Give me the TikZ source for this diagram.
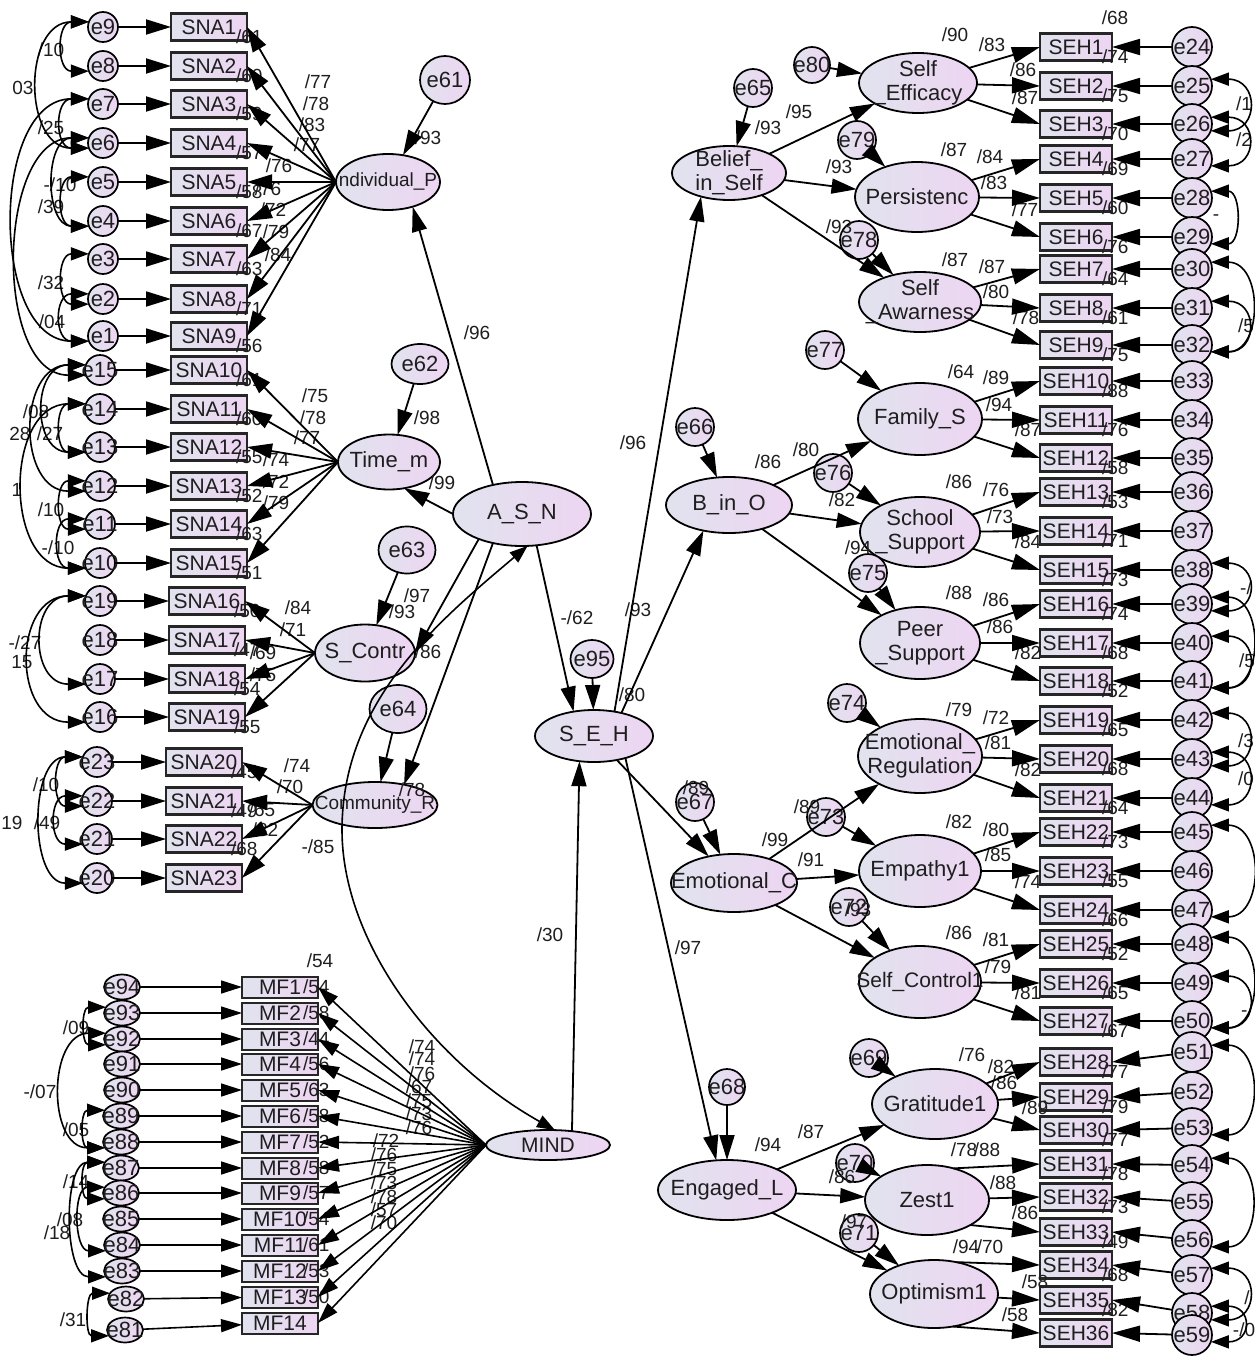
\documentclass[tikz,border=0pt]{standalone}
\usepackage{fontspec}
\setmainfont{Liberation Sans}
\usetikzlibrary{shapes.geometric,arrows.meta}
\definecolor{lc}{HTML}{E1E3EE}
\definecolor{rc}{HTML}{EDD5F2}
\definecolor{ink}{HTML}{1E1E1E}
\newcommand\dv{/}
\begin{document}
\begin{tikzpicture}[x=1pt,y=-1pt,
  every node/.style={inner sep=0pt,outer sep=0pt},
  shd/.style={left color=lc,right color=rc},
  lat/.style={ellipse,draw=black,line width=1.8pt,shd},
  obs/.style={rectangle,draw=black!85,line width=2.4pt,shd,font=\fontsize{21}{23}\selectfont,text=ink},
  err/.style={circle,draw=black,line width=1.7pt,shd},
  errE/.style={ellipse,draw=black,line width=1.7pt,shd},
  etx/.style={font=\fontsize{22}{24}\selectfont,text=ink},
  ltx/.style={font=\fontsize{22}{24}\selectfont,align=center,text=ink},
  lb/.style={font=\fontsize{19}{21}\selectfont,text=ink},
  ar/.style={line width=1.8pt,-{Triangle[length=25pt,width=15pt]}},
  arR/.style={line width=1.8pt,-{Triangle[length=28pt,width=16pt]}},
  arm/.style={line width=1.6pt,-{Triangle[length=21pt,width=13pt]}},
  cov/.style={line width=1.6pt,{Triangle[length=18pt,width=13pt]}-{Triangle[length=18pt,width=13pt]}},
]
\fill[white] (0,0) rectangle (1254,1357);
\useasboundingbox (0,0) rectangle (1254,1357);

% ---------------- SNA block ----------------
\foreach \i/\y/\e/\bx/\ex in {1/27/9/209/103,2/66/8/209/103,3/104/7/209/103,4/143/6/209/103,5/182/5/209/103,6/221/4/209/103,7/259/3/209/103,8/299/2/209/103,9/336/1/209/103,10/370/15/209/100,11/409/14/209/100,12/447/13/209/100,13/486/12/209/100,14/524/11/209/100,15/563/10/209/100,16/601/19/207/100,17/640/18/207/100,18/679/17/207/100,19/717/16/207/100,20/762/23/204/97,21/801/22/204/97,22/839/21/204/97,23/878/20/204/97}{
  \node[obs,minimum width=76pt,minimum height=27pt] (sna\i) at (\bx,\y) {SNA\i};
  \node[err,minimum size=30pt] (e\e) at (\ex,\y) {};
  \node[etx] (te\e) at (e\e) {e\e};
}
% ---------------- MF block ----------------
\foreach \i/\y/\e/\ey/\ex in {1/987/94/987/122,2/1013/93/1013/122,3/1039/92/1039/122,4/1064/91/1064/122,5/1090/90/1090/122,6/1116/89/1116/121,7/1142/88/1142/121,8/1168/87/1168/121,9/1193/86/1193/121,10/1219/85/1219/121,11/1245/84/1245/122,12/1271/83/1271/122,13/1297/82/1299/126,14/1323/81/1330/125}{
  \node[obs,minimum width=76pt,minimum height=21pt,line width=2pt] (mf\i) at (280,\y) {MF\i};
  \node[errE,minimum width=36pt,minimum height=25pt] (e\e) at (\ex,\ey) {};
  \node[etx] (te\e) at (e\e) {e\e};
}
% ---------------- SEH block ----------------
\foreach \i/\y/\e/\ey in {1/47/24/47,2/86/25/86,3/124/26/124,4/159/27/159,5/198/28/198,6/237/29/237,7/269/30/269,8/308/31/308,9/345/32/345,10/381/33/381,11/420/34/420,12/458/35/458,13/492/36/492,14/531/37/531,15/570/38/570,16/604/39/604,17/643/40/643,18/681/41/681,19/720/42/720,20/759/43/759,21/798/44/798,22/832/45/832,23/871/46/871,24/910/47/910,25/944/48/944,26/983/49/983,27/1021/50/1021,28/1062/51/1052,29/1097/52/1092,30/1130/53/1128,31/1164/54/1165,32/1197/55/1202,33/1232/56/1240,34/1265/57/1275,35/1300/58/1313,36/1333/59/1335}{
  \node[obs,minimum width=72pt,minimum height=27pt] (seh\i) at (1076,\y) {SEH\i};
  \node[err,minimum size=40pt] (e\e) at (1192,\ey) {};
  \node[etx] (te\e) at (e\e) {e\e};
}

% ---------------- latent variables ----------------
\foreach \n/\x/\y/\w/\h in {indp/388/182/104/56,timem/389/462/102/55,scontr/365/653/100/57,comm/375/805/125/46,asn/522/514/138/64,seh/594/736/118/52,mind/548/1145/124/30,belief/729/173/114/54,selfeff/918/83/118/60,persist/917/197/124/70,selfaw/920/302/122/60,bino/729/505/126/56,family/920/419/124/72,school/920/532/120/70,peer/920/643/120/72,emoc/734/883/126/58,emoreg/920/756/124/74,empathy/920/871/122/72,selfcon/920/982/122/72,engl/727/1190/138/60,grat/935/1104/126/70,zest/927/1200/124/70,optim/934/1294/128/68}{
  \node[lat,minimum width=\w pt,minimum height=\h pt] (\n) at (\x,\y) {};
}
\node[ltx,font=\fontsize{19}{21}\selectfont] (tindp) at (indp) {ndividual\_P};
\node[ltx] (ttimem) at (timem) {Time\_m};
\node[ltx] (tscontr) at (scontr) {S\_Contr};
\node[ltx,font=\fontsize{19}{21}\selectfont] (tcomm) at (comm) {Community\_R};
\node[ltx] (tasn) at (asn) {A\_S\_N};
\node[ltx] (tseh) at (seh) {S\_E\_H};
\node[ltx,font=\fontsize{21}{23}\selectfont] (tmind) at (mind) {MIND};
\node[ltx] (tbelief) at (belief) {Belief\_\\in\_Self};
\node[ltx] (tselfeff) at (selfeff) {Self\\\_Efficacy};
\node[ltx] (tpersist) at (persist) {Persistenc};
\node[ltx] (tselfaw) at (selfaw) {Self\\\_Awarness};
\node[ltx] (tbino) at (bino) {B\_in\_O};
\node[ltx] (tfamily) at (family) {Family\_S};
\node[ltx] (tschool) at (school) {School\\\_Support};
\node[ltx] (tpeer) at (peer) {Peer\\\_Support};
\node[ltx] (temoc) at (emoc) {Emotional\_C};
\node[ltx] (temoreg) at (emoreg) {Emotional\_\\Regulation};
\node[ltx] (tempathy) at (empathy) {Empathy1};
\node[ltx,font=\fontsize{21}{23}\selectfont] (tselfcon) at (selfcon) {Self\_Control1};
\node[ltx] (tengl) at (engl) {Engaged\_L};
\node[ltx] (tgrat) at (grat) {Gratitude1};
\node[ltx] (tzest) at (zest) {Zest1};
\node[ltx] (toptim) at (optim) {Optimism1};

% ---------------- latent error terms ----------------
\foreach \n/\x/\y/\w/\h in {61/445/80/50/48,62/420/364/57/40,63/407/550/57/47,64/398/709/57/48,95/592/659/43/38,65/753/88/38/38,80/812/65/36/36,79/857/140/38/38,78/859/240/38/38,66/695/427/38/38,77/825/350/38/38,76/833/473/38/38,75/868/573/38/38,67/695/802/38/38,74/847/703/38/38,73/826/817/38/38,72/849/907/38/38,68/727/1087/36/36,69/869/1058/38/38,70/855/1163/38/38,71/859/1233/38/38}{
  \node[errE,minimum width=\w pt,minimum height=\h pt] (e\n) at (\x,\y) {};
  \node[etx] (te\n) at (e\n) {e\n};
}

% ---------------- R squared labels ----------------
\foreach \i/\v in {1/61,2/60,3/59,4/57,5/58,6/67,7/63,8/71,9/56,10/61,11/60,12/55,13/52,14/63,15/51,16/50,17/47,18/54,19/55,20/45,21/49,22/68}
  \node[lb,anchor=west] (rs\i) at ([xshift=-11pt,yshift=-10pt]sna\i.east) {\dv\v};
\foreach \i/\v in {1/54,2/58,3/44,4/56,5/63,6/58,7/52,8/58,9/57,10/54,11/61,12/53,13/50}
  \node[lb,anchor=west] (rm\i) at ([xshift=-15pt]mf\i.east) {\dv\v};
\foreach \i/\v in {1/74,2/75,3/70,4/69,5/60,6/76,7/64,8/61,9/75,10/88,11/76,12/58,13/53,14/71,15/73,16/74,17/68,18/52,19/65,20/68,21/64,22/73,23/55,24/66,25/52,26/65,27/67,28/77,29/79,30/77,31/78,32/73,33/49,34/68,35/82}
  \node[lb,anchor=west] (rh\i) at ([xshift=-10pt,yshift=-10pt]seh\i.east) {\dv\v};

% ---------------- coefficient labels (left / centre) ----------------
\foreach \x/\y/\t [count=\k] in {428/138/\dv93,477/333/\dv96,318/82/\dv77,316/104/\dv78,312/125/\dv83,307/145/\dv77,279/166/\dv76,268/189/\dv76,273/210/\dv72,276/232/\dv79,278/255/\dv84,427/418/\dv98,442/483/\dv99,315/396/\dv75,313/418/\dv78,307/438/\dv77,276/460/\dv74,276/482/\dv72,276/503/\dv79,417/596/\dv97,402/612/\dv93,428/652/\dv86,298/608/\dv84,293/630/\dv71,263/653/\dv69,263/675/\dv75,412/790/\dv78,297/766/\dv74,290/787/\dv70,262/810/\dv65,265/830/\dv82,318/847/-\dv85,51/50/\dv10,23/88/03,51/128/\dv25,60/185/-\dv10,51/207/\dv39,51/283/\dv32,52/322/\dv04,36/412/\dv08,20/434/28,50/434/\dv27,17/490/1,51/510/\dv10,58/548/-\dv10,25/643/-\dv27,22/662/15,46/785/\dv10,12/823/19,47/823/\dv49,76/1028/\dv09,40/1092/-\dv07,76/1130/\dv05,76/1182/\dv14,70/1220/\dv08,57/1233/\dv18,73/1320/\dv31,320/961/\dv54,422/1047/\dv74,422/1059/\dv74,422/1074/\dv76,419/1087/\dv67,419/1101/\dv75,419/1114/\dv73,419/1128/\dv76,386/1141/\dv72,384/1155/\dv76,384/1169/\dv75,384/1183/\dv73,384/1197/\dv78,384/1210/\dv57,384/1223/\dv70,577/618/-\dv62,633/443/\dv96,638/610/\dv93,632/695/\dv80,688/948/\dv97,550/935/\dv30}
  \node[lb] (la\k) at (\x,\y) {\t};
% ---------------- coefficient labels (right) ----------------
\foreach \x/\y/\t [count=\k] in {768/128/\dv93,799/112/\dv95,839/167/\dv93,839/227/\dv93,955/35/\dv90,992/45/\dv83,1023/70/\dv86,1025/98/\dv87,954/150/\dv87,990/157/\dv84,994/183/\dv83,1025/210/\dv77,955/260/\dv87,992/267/\dv87,996/292/\dv80,1026/318/\dv78,768/462/\dv86,806/450/\dv80,842/500/\dv82,858/548/\dv94,961/372/\dv64,996/378/\dv89,999/405/\dv94,1028/430/\dv87,959/482/\dv86,996/490/\dv76,1000/517/\dv73,1028/542/\dv84,959/593/\dv88,996/600/\dv86,1000/627/\dv86,1028/653/\dv82,959/710/\dv79,996/718/\dv72,998/743/\dv81,1028/770/\dv82,959/822/\dv82,996/830/\dv80,998/855/\dv85,1028/882/\dv74,959/933/\dv86,996/940/\dv81,998/967/\dv79,1028/993/\dv81,696/788/\dv89,775/840/\dv99,807/807/\dv89,811/860/\dv91,858/910/\dv93,768/1145/\dv94,811/1132/\dv87,842/1177/\dv86,854/1222/\dv97,972/1055/\dv76,1001/1067/\dv82,1004/1083/\dv86,1035/1108/\dv89,964/1150/\dv78,987/1150/\dv88,1003/1183/\dv88,1025/1213/\dv86,966/1247/\dv94,990/1247/\dv70,1035/1282/\dv58,1015/1315/\dv58,1115/18/\dv68,1244/104/\dv1,1244/140/\dv2,1216/218/-,1246/326/\dv5,1246/588/-\dv,1247/661/\dv5,1246/741/\dv3,1246/779/\dv0,1247/1010/-\dv,1247/1298/\dv,1244/1330/-\dv0}
  \node[lb] (lr\k) at (\x,\y) {\t};

% ---------------- arrows: SNA ----------------
\foreach \e/\i in {9/1,8/2,7/3,6/4,5/5,4/6,3/7,2/8,1/9,15/10,14/11,13/12,12/13,11/14,10/15,19/16,18/17,17/18,16/19,23/20,22/21,21/22,20/23}
  \draw[ar] (e\e) -- (sna\i);
\foreach \i in {1,...,9} \draw[ar] (indp.west) -- (sna\i.east);
\foreach \i in {10,...,15} \draw[ar] (timem.west) -- (sna\i.east);
\foreach \i in {16,...,19} \draw[ar] (scontr.west) -- (sna\i.east);
\foreach \i in {20,...,23} \draw[ar] (comm.west) -- (sna\i.east);
% ---------------- arrows: MF ----------------
\foreach \e/\i in {94/1,93/2,92/3,91/4,90/5,89/6,88/7,87/8,86/9,85/10,84/11,83/12,82/13,81/14}
  \draw[arm] (e\e) -- (mf\i);
\foreach \i in {1,...,14} \draw[arm] (mind.west) -- (mf\i.east);
% ---------------- arrows: SEH ----------------
\foreach \e/\i in {24/1,25/2,26/3,27/4,28/5,29/6,30/7,31/8,32/9,33/10,34/11,35/12,36/13,37/14,38/15,39/16,40/17,41/18,42/19,43/20,44/21,45/22,46/23,47/24,48/25,49/26,50/27,51/28,52/29,53/30,54/31,55/32,56/33,57/34,58/35,59/36}
  \draw[arR] (e\e) -- (seh\i.east);
\foreach \n/\a/\b/\c in {selfeff/1/2/3,persist/4/5/6,selfaw/7/8/9,family/10/11/12,school/13/14/15,peer/16/17/18,emoreg/19/20/21,empathy/22/23/24,selfcon/25/26/27,grat/28/29/30}{
  \draw[arR] (\n) -- (seh\a.west);
  \draw[arR] (\n) -- (seh\b.west);
  \draw[arR] (\n) -- (seh\c.west);
}
\draw[arR] (zest.50) -- (seh31.west);
\draw[arR] (zest) -- (seh32.west);
\draw[arR] (zest.-30) -- (seh33.west);
\draw[arR] (optim.55) -- (seh34.west);
\draw[arR] (optim) -- (seh35.west);
\draw[arR] (optim.-60) -- (seh36.west);

% ---------------- structural arrows ----------------
\draw[ar] (e61) -- (indp);
\draw[ar] (e62) -- (timem);
\draw[ar] (e63) -- (scontr);
\draw[ar] (e64) -- (comm);
\draw[ar] (asn.135) -- (indp.-45);
\draw[ar] (asn.west) -- (timem.-60);
\draw[ar] (asn.-150) -- (scontr.east);
\draw[ar] (asn.-135) -- (comm.35);
\draw[ar] (asn.-65) -- (seh.130);
\draw[ar] (e95) -- (seh);
\draw[ar] (mind.30) -- (seh.-120);
\draw[cov] (asn.-80) .. controls (440,620) and (342,700) .. (342,830) .. controls (342,940) and (430,1060) .. (mind.65);
\draw[ar] (seh.50) -- (belief.-140);
\draw[ar] (seh.40) -- (bino.-135);
\draw[ar] (seh) -- (emoc);
\draw[ar] (seh.-35) -- (engl.110);
\foreach \a/\b in {e65/belief,e66/bino,e67/emoc,e68/engl,belief/selfeff,belief/persist,belief/selfaw,e80/selfeff,e79/persist,e78/selfaw,bino/family,bino/school,bino/peer,e77/family,e76/school,e75/peer,emoc/emoreg,emoc/empathy,emoc/selfcon,e74/emoreg,e73/empathy,e72/selfcon,engl/grat,engl/zest,engl/optim,e69/grat,e70/zest,e71/optim}
  \draw[ar] (\a) -- (\b);

% ---------------- covariances ----------------
\foreach \a/\b/\L in {9/8/1.7,9/6/1.35,7/6/1.8,7/1/1.05,6/4/1.3,5/4/1.7,3/2/1.65,2/1/1.9,6/15/1.0,15/13/1.6,15/12/1.4,14/13/1.65,14/10/1.28,12/11/1.65,11/10/1.75,19/17/1.65,19/16/1.5,23/22/1.6,22/21/1.8,23/20/1.1,93/92/1.7,92/88/1.3,89/88/1.7,87/86/1.75,86/84/1.3,87/83/0.95,82/81/1.45}
  \draw[cov] (e\a.160) to[out=180,in=180,looseness=\L] (e\b.200);
\foreach \a/\b/\L in {25/26/2.4,26/27/2.5,28/29/1.5,30/32/1.5,31/32/2.4,38/39/2.6,39/41/1.5,40/41/2.4,42/43/2.35,43/44/2.35,45/47/1.5,48/50/1.5,49/50/2.4,51/53/1.5,54/56/1.5,57/58/2.4,58/59/3.0}
  \draw[cov] (e\a.20) to[out=0,in=0,looseness=\L] (e\b.-20);
\end{tikzpicture}
\end{document}
